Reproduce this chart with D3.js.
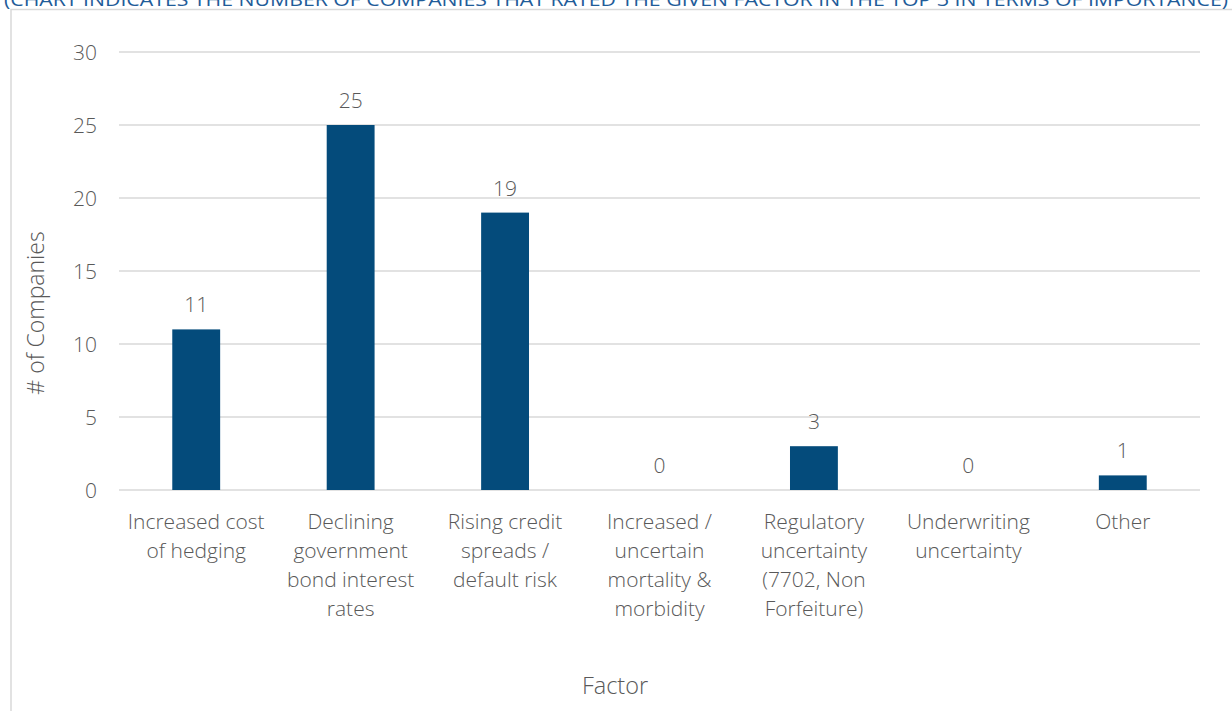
<!DOCTYPE html>
<html><head><meta charset="utf-8">
<script src="https://cdn.jsdelivr.net/npm/d3@7"></script>
<style>body{margin:0;background:#fff;} svg{display:block;} text{font-family:"Open Sans",Lato,sans-serif;}</style>
</head><body><svg id="c" width="1232" height="711"></svg>
<script>
const titleText = "(CHART INDICATES THE NUMBER OF COMPANIES THAT RATED THE GIVEN FACTOR IN THE TOP 3 IN TERMS OF IMPORTANCE)";
const categories = [
  ["Increased cost","of hedging"],
  ["Declining","government","bond interest","rates"],
  ["Rising credit","spreads /","default risk"],
  ["Increased /","uncertain","mortality &","morbidity"],
  ["Regulatory","uncertainty","(7702, Non","Forfeiture)"],
  ["Underwriting","uncertainty"],
  ["Other"]
];
const values = [11, 25, 19, 0, 3, 0, 1];
const yTicks = [0, 5, 10, 15, 20, 25, 30];
const xTitle = "Factor";
const yTitle = "# of Companies";

const svg = d3.select("#c");
const L = 119, R = 1200, T = 52, B = 490;
const x = d3.scaleBand().domain(d3.range(categories.length)).range([L, R]).paddingInner(0.69).paddingOuter(0.345);
const y = d3.scaleLinear().domain([0, 30]).range([B, T]);
const grey = "#595959";
const ff = "'Open Sans', Lato, sans-serif";

// frame
svg.append("rect").attr("x", 11).attr("y", 9.5).attr("width", 1240).attr("height", 720)
  .attr("fill", "none").attr("stroke", "#d9d9d9").attr("stroke-width", 1.5);

// title (cut off at top)
svg.append("text").attr("x", 616).attr("y", 5.5).attr("text-anchor", "middle")
  .attr("font-size", 17.5).attr("fill", "#1f5c99").attr("textLength", 1224).attr("lengthAdjust","spacingAndGlyphs")
  .text(titleText);

// gridlines
svg.append("g").selectAll("line").data(yTicks).join("line")
  .attr("x1", L).attr("x2", R).attr("y1", d => y(d)).attr("y2", d => y(d))
  .attr("stroke", "#d9d9d9").attr("stroke-width", 1.5);

// y axis labels
const yAxis = d3.axisLeft(y).tickValues(yTicks).tickSize(0).tickPadding(22);
const ya = svg.append("g").attr("transform", `translate(${L},0)`).call(yAxis);
ya.select(".domain").remove();
ya.selectAll("text").attr("font-size", 21).attr("fill", grey).attr("font-family", ff).attr("font-weight", 300).attr("dy", "0.35em");

// bars
svg.append("g").selectAll("rect").data(values).join("rect")
  .attr("x", (d, i) => x(i)).attr("width", x.bandwidth())
  .attr("y", d => y(d)).attr("height", d => B - y(d))
  .attr("fill", "#044b7b");

// data labels
svg.append("g").selectAll("text").data(values).join("text")
  .attr("x", (d, i) => x(i) + x.bandwidth() / 2).attr("y", d => y(d) - 17)
  .attr("text-anchor", "middle").attr("font-size", 21).attr("font-weight", 300).attr("fill", grey)
  .text(d => d);

// x labels
const xl = svg.append("g").selectAll("text").data(categories).join("text")
  .attr("x", (d, i) => x(i) + x.bandwidth() / 2).attr("y", 529)
  .attr("text-anchor", "middle").attr("font-size", 21).attr("font-weight", 300).attr("fill", grey);
xl.each(function(lines, i) {
  d3.select(this).selectAll("tspan").data(lines).join("tspan")
    .attr("x", x(i) + x.bandwidth() / 2).attr("dy", (d, j) => j === 0 ? 0 : 29).text(d => d);
});

// axis titles
svg.append("text").attr("x", 615).attr("y", 694).attr("text-anchor", "middle")
  .attr("font-size", 23.5).attr("font-weight", 300).attr("fill", grey).text(xTitle);
svg.append("text").attr("transform", "translate(44,313) rotate(-90)").attr("text-anchor", "middle")
  .attr("font-size", 23).attr("font-weight", 300).attr("fill", grey).text(yTitle);
</script></body></html>
